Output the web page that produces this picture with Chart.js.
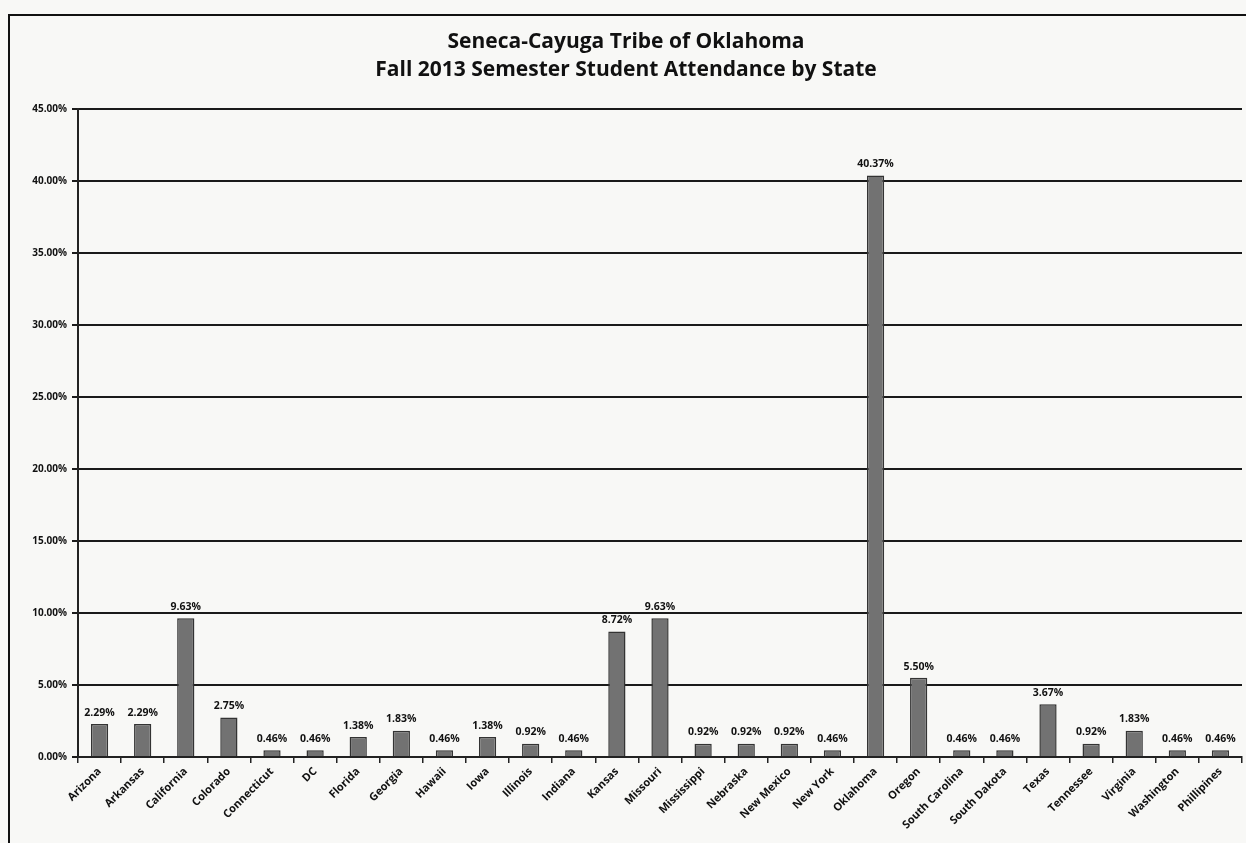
<!DOCTYPE html>
<html>
<head>
<meta charset="utf-8">
<script src="https://cdn.jsdelivr.net/npm/chart.js@4"></script>
<style>
  body { margin: 0; background: #f8f8f6; }
  #caixa {
    position: absolute; left: 8px; top: 14px; width: 1240px; height: 829px;
    border-left: 2px solid #111; border-top: 2px solid #111; box-sizing: border-box;
  }
</style>
</head>
<body>
<div id="caixa"><canvas id="graficoEstados"></canvas></div>
<script>
var estados = ['Arizona', 'Arkansas', 'California', 'Colorado', 'Connecticut', 'DC', 'Florida', 'Georgia',
  'Hawaii', 'Iowa', 'Illinois', 'Indiana', 'Kansas', 'Missouri', 'Mississippi', 'Nebraska', 'New Mexico',
  'New York', 'Oklahoma', 'Oregon', 'South Carolina', 'South Dakota', 'Texas', 'Tennessee', 'Virginia',
  'Washington', 'Phillipines'];
var porcentagens = [2.29, 2.29, 9.63, 2.75, 0.46, 0.46, 1.38, 1.83, 0.46, 1.38, 0.92, 0.46, 8.72, 9.63,
  0.92, 0.92, 0.92, 0.46, 40.37, 5.50, 0.46, 0.46, 3.67, 0.92, 1.83, 0.46, 0.46];
var ticksEixoY = [0, 5, 10, 15, 20, 25, 30, 35, 40, 45];
var titulo = ['Seneca-Cayuga Tribe of Oklahoma', 'Fall 2013 Semester Student Attendance by State'];

// escreve o valor em cima de cada barra
var rotulosBarras = {
  id: 'rotulosBarras',
  afterDatasetsDraw: function (chart) {
    var ctx = chart.ctx;
    var meta = chart.getDatasetMeta(0);
    ctx.save();
    ctx.fillStyle = '#111';
    ctx.font = 'bold 10.5px "Open Sans"';
    ctx.textAlign = 'center';
    ctx.textBaseline = 'bottom';
    meta.data.forEach(function (barra, i) {
      ctx.fillText(porcentagens[i].toFixed(2) + '%', barra.x, barra.y - 6);
    });
    ctx.restore();
  }
};

var ctx = document.getElementById('graficoEstados').getContext('2d');
var grafico = new Chart(ctx, {
  type: 'bar',
  data: {
    labels: estados,
    datasets: [{
      data: porcentagens,
      backgroundColor: '#727272',
      borderColor: '#333',
      borderWidth: 1.5,
      barPercentage: 0.4,
      categoryPercentage: 1
    }]
  },
  options: {
    responsive: true,
    maintainAspectRatio: false,
    animation: false,
    layout: { padding: { top: 0, right: 6, left: 0, bottom: 0 } },
    plugins: {
      legend: { display: false },
      tooltip: { enabled: false },
      title: {
        display: true,
        text: titulo,
        color: '#111',
        font: { family: 'Open Sans', size: 21, weight: 'bold', lineHeight: 1.33 },
        padding: { top: 12, bottom: 25 }
      }
    },
    scales: {
      x: {
        grid: { display: true, drawOnChartArea: false, drawTicks: true, tickLength: 6, color: '#222', lineWidth: 1.5 },
        border: { display: true, color: '#222', width: 2 },
        ticks: {
          color: '#111',
          font: { family: 'Open Sans', size: 11, weight: 'bold' },
          maxRotation: 45, minRotation: 45, autoSkip: false, padding: 2
        },
        afterFit: function (eixo) { eixo.height = 86; }
      },
      y: {
        min: 0,
        max: 45,
        afterBuildTicks: function (eixo) {
          eixo.ticks = ticksEixoY.map(function (v) { return { value: v }; });
        },
        grid: { color: '#1a1a1a', lineWidth: 2, tickLength: 6 },
        border: { display: true, color: '#222', width: 2 },
        ticks: {
          color: '#111',
          font: { family: 'Open Sans', size: 10, weight: 'bold' },
          padding: 5,
          callback: function (v) { return v.toFixed(2) + '%'; }
        },
        afterFit: function (eixo) { eixo.width = 68; }
      }
    }
  },
  plugins: [rotulosBarras]
});
</script>
</body>
</html>
